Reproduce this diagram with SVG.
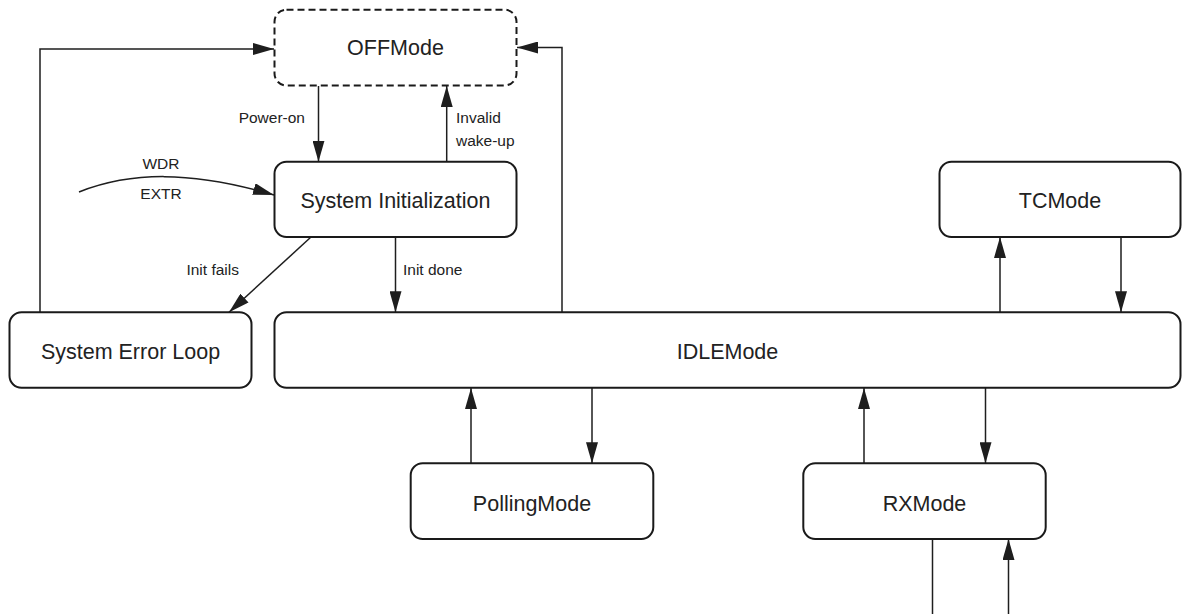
<svg xmlns="http://www.w3.org/2000/svg" width="1182" height="614" viewBox="0 0 1182 614">
<defs>
<marker id="ah" markerUnits="userSpaceOnUse" markerWidth="21" markerHeight="12" refX="21" refY="6" orient="auto" viewBox="0 0 21 12">
<path d="M0,0 L21,6 L0,12 z" fill="#1e1e1e"/>
</marker>
<style>
.box{fill:#fff;stroke:#1a1a1a;stroke-width:2}
.dash{stroke-dasharray:7 4}
.lbl{font-family:"Liberation Sans",Arial,sans-serif;font-size:21.5px;fill:#222;text-anchor:middle}
.sm{font-family:"Liberation Sans",Arial,sans-serif;font-size:15.5px;fill:#222}
.c{fill:none;stroke:#1e1e1e;stroke-width:1.5}
.a{marker-end:url(#ah)}
</style>
</defs>
<rect width="1182" height="614" fill="#fff"/>
<g id="connectors">
<path class="c a" d="M40,312 V49 H274"/>
<path class="c a" d="M562,312 V47.5 H517"/>
<path class="c a" d="M318.5,86 V161.7"/>
<path class="c a" d="M446.7,161.7 V86"/>
<path class="c a" d="M79,192 C130,172 190,170 274,195"/>
<path class="c a" d="M311,237 L229,312.3"/>
<path class="c a" d="M395.5,237 V312.3"/>
<path class="c a" d="M1000,312.3 V237"/>
<path class="c a" d="M1121,237 V312.3"/>
<path class="c a" d="M471,463.3 V388"/>
<path class="c a" d="M592,388 V463.3"/>
<path class="c a" d="M864,463.3 V388"/>
<path class="c a" d="M985.5,388 V463.3"/>
<path class="c" d="M932.5,539 V614"/>
<path class="c a" d="M1008.5,614 V539"/>
<text class="sm" x="305" y="123" text-anchor="end">Power-on</text>
<text class="sm" x="456" y="123">Invalid</text>
<text class="sm" x="456" y="146">wake-up</text>
<text class="sm" x="161" y="168.5" text-anchor="middle">WDR</text>
<text class="sm" x="161" y="198.5" text-anchor="middle">EXTR</text>
<text class="sm" x="239" y="274.5" text-anchor="end">Init fails</text>
<text class="sm" x="403" y="274.5">Init done</text>
</g>
<g id="OFFMode">
<rect class="box dash" x="274.5" y="9.7" width="242" height="75.8" rx="12"/>
<text class="lbl" x="395.5" y="55.3">OFFMode</text>
</g>
<g id="SystemInitialization">
<rect class="box" x="274.5" y="161.7" width="242" height="75.3" rx="12"/>
<text class="lbl" x="395.5" y="207.7">System Initialization</text>
</g>
<g id="TCMode">
<rect class="box" x="939.5" y="161.7" width="241" height="75.3" rx="12"/>
<text class="lbl" x="1060" y="207.7">TCMode</text>
</g>
<g id="SystemErrorLoop">
<rect class="box" x="9.5" y="312.3" width="242" height="75.5" rx="12"/>
<text class="lbl" x="130.5" y="359.4">System Error Loop</text>
</g>
<g id="IDLEMode">
<rect class="box" x="274.5" y="312.3" width="906" height="75.5" rx="12"/>
<text class="lbl" x="727.5" y="359.4">IDLEMode</text>
</g>
<g id="PollingMode">
<rect class="box" x="410.7" y="463.3" width="242.6" height="75.7" rx="12"/>
<text class="lbl" x="532" y="511">PollingMode</text>
</g>
<g id="RXMode">
<rect class="box" x="803.3" y="463.3" width="242.4" height="75.7" rx="12"/>
<text class="lbl" x="924.5" y="511">RXMode</text>
</g>
</svg>
